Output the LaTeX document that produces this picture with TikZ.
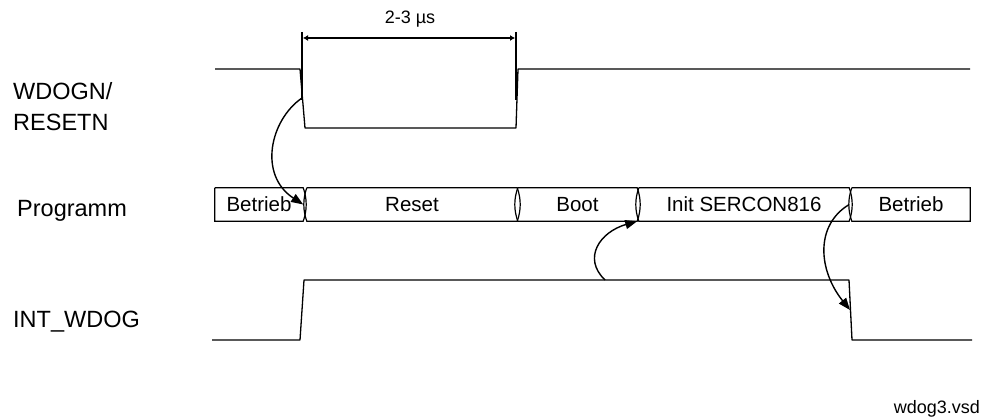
\documentclass[tikz,border=0pt]{standalone}
\usepackage{fontspec}
\setmainfont{Liberation Sans}
\usetikzlibrary{arrows.meta}

\begin{document}
\begin{tikzpicture}[x=1pt,y=-1pt,
		sig/.style={line width=1.3pt,line join=round},
		phase/.style={line width=1.2pt},
		cause/.style={line width=1.4pt,-{Triangle[length=12pt,width=9pt]}},
		lbl/.style={anchor=base west,inner sep=0,font=\fontsize{23.5}{28}\selectfont},
		boxtxt/.style={minimum height=33pt,inner sep=0,font=\fontsize{20.5}{24}\selectfont}]
		\useasboundingbox (0,0) rectangle (987,419);

		% Beschriftung links
		\node[lbl] (wdogn) at (13,100) {WDOGN/};
		\node[lbl] (resetn) at (13,131) {RESETN};
		\node[lbl] (prog) at (17,217) {Programm};
		\node[lbl] (intw) at (13,327) {INT\_WDOG};

		% WDOGN/RESETN
		\draw[sig] (215,69) -- (300,69) -- (305,128) -- (516,128) -- (518,69) -- (970,69);
		\draw[line width=1.2pt] (302,32) -- (302,100);
		\draw[line width=1.2pt] (516,32) -- (516,100);
		\draw[line width=2.4pt,{Latex[length=5pt,width=6pt]}-{Latex[length=5pt,width=6pt]}] (303,38) -- (515,38);
		\node[anchor=base,inner sep=0,font=\fontsize{18}{22}\selectfont] (dauer) at (410,24) {2-3 µs};
		\coordinate (wfall) at (302,98);

		% Programm
		\node[boxtxt,minimum width=88pt] (b1) at (259,204.5) {Betrieb};
		\node[boxtxt,minimum width=210pt] (reset) at (412,204.5) {Reset};
		\node[boxtxt,minimum width=119pt] (boot) at (577.5,204.5) {Boot};
		\node[boxtxt,minimum width=210pt] (init) at (744,204.5) {Init SERCON816};
		\node[boxtxt,minimum width=118pt] (b2) at (911,204.5) {Betrieb};
		\foreach \n/\l/\r in {b1/0/4,reset/4/4,boot/4/4,init/4/4,b2/4/0}
			\draw[phase] (\n.north west) -- (\n.north east)
				.. controls +(\r,11) and +(\r,-11) .. (\n.south east) -- (\n.south west)
				.. controls +(-\l,-11) and +(-\l,11) .. (\n.north west);

		% INT_WDOG
		\draw[sig] (212,340) -- (300,340) -- (304,280) -- (849,280) -- (852,340) -- (972,340);
		\coordinate (inthi) at (605,280);
		\coordinate (intfall) at (850,310);

		% Ursache -> Wirkung
		\draw[cause] (wfall) .. controls (270,120) and (258,175) .. (b1.east);
		\draw[cause] (inthi) .. controls (582,258) and (600,232) .. (boot.south east);
		\draw[cause] (init.east) .. controls (815,225) and (818,270) .. (intfall);

		\node[anchor=base east,inner sep=0,font=\fontsize{18}{22}\selectfont] (datei) at (980,413) {wdog3.vsd};
	\end{tikzpicture}
\end{document}
